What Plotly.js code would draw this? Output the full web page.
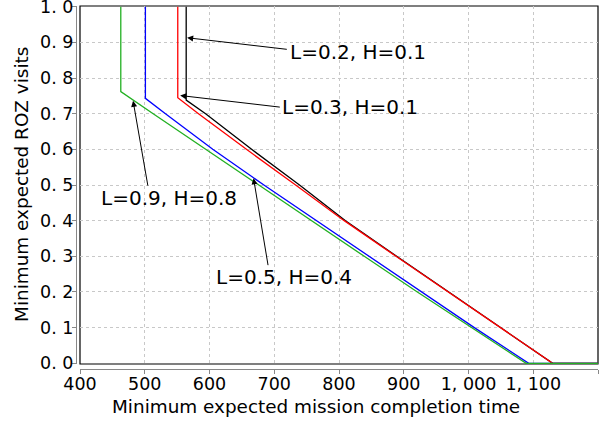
<!DOCTYPE html>
<html>
<head>
<meta charset="utf-8">
<script src="https://cdn.plot.ly/plotly-3.0.1.min.js"></script>
<style>html,body{margin:0;padding:0;background:#fff;}#chart{width:606px;height:424px;}</style>
</head>
<body>
<div id="chart"></div>
<script>
// Series values
const black_x = [564, 564, 594, 665, 739, 810, 889, 969, 1050, 1130, 1200];
const black_y = [1.0, 0.738, 0.7, 0.6, 0.5, 0.4, 0.3, 0.2, 0.1, 0.0, 0.0];
const red_x = [551, 551, 583, 657, 733, 808, 888, 968, 1049, 1130, 1200];
const red_y = [1.0, 0.745, 0.7, 0.6, 0.5, 0.4, 0.3, 0.2, 0.1, 0.0, 0.0];
const blue_x = [501, 501, 532, 605, 684, 765, 846, 927, 1009, 1093, 1200];
const blue_y = [1.0, 0.743, 0.7, 0.6, 0.5, 0.4, 0.3, 0.2, 0.1, 0.0, 0.0];
const green_x = [463, 463, 513, 594, 676, 758, 839, 921, 1005, 1089, 1200];
const green_y = [1.0, 0.762, 0.7, 0.6, 0.5, 0.4, 0.3, 0.2, 0.1, 0.0, 0.0];

const x_tickvals = [400, 500, 600, 700, 800, 900, 1000, 1100, 1200];
const x_ticktext = ['400', '500', '600', '700', '800', '900', '1, 000', '1, 100', ''];
const y_tickvals = [0, 0.1, 0.2, 0.3, 0.4, 0.5, 0.6, 0.7, 0.8, 0.9, 1.0];
const y_ticktext = ['0. 0', '0. 1', '0. 2', '0. 3', '0. 4', '0. 5', '0. 6', '0. 7', '0. 8', '0. 9', '1. 0'];

const labels = ['L=0.2, H=0.1', 'L=0.3, H=0.1', 'L=0.9, H=0.8', 'L=0.5, H=0.4'];
const x_title = 'Minimum expected mission completion time';
const y_title = 'Minimum expected ROZ visits';

// annotation placement (style/position)
const annPos = [
  {hx: 565.5, hy: 0.913, tx: 721.7, ty: 0.880, cx: 829, cy: 0.873},
  {hx: 554.7, hy: 0.751, tx: 710.9, ty: 0.718, cx: 817.6, cy: 0.718},
  {hx: 482.0, hy: 0.736, tx: 505.2, ty: 0.494, cx: 537.6, cy: 0.464},
  {hx: 668.0, hy: 0.519, tx: 690.8, ty: 0.271, cx: 714.7, cy: 0.243}
];

const FONT = 'DejaVu Sans, sans-serif';
const lw = 1.3;
const traces = [
  {x: black_x, y: black_y, mode: 'lines', line: {color: '#000000', width: lw}},
  {x: red_x, y: red_y, mode: 'lines', line: {color: '#ff0000', width: lw}},
  {x: blue_x, y: blue_y, mode: 'lines', line: {color: '#0000ff', width: lw}},
  {x: green_x, y: green_y, mode: 'lines', line: {color: '#22b022', width: lw}}
];

const annotations = [];
labels.forEach((t, i) => {
  const p = annPos[i];
  annotations.push({x: p.hx, y: p.hy, ax: p.tx, ay: p.ty, axref: 'x', ayref: 'y',
    xref: 'x', yref: 'y', text: '', showarrow: true, arrowhead: 2, arrowsize: 1.2,
    arrowwidth: 1, arrowcolor: '#000'});
  annotations.push({x: p.cx, y: p.cy, xref: 'x', yref: 'y', text: t, showarrow: false,
    font: {family: FONT, size: 20, color: '#000'}, xanchor: 'center', yanchor: 'middle'});
});
annotations.push({x: 0.46, y: -0.103, xref: 'paper', yref: 'paper', text: x_title, showarrow: false,
  font: {family: FONT, size: 18.4, color: '#000'}, xanchor: 'center', yanchor: 'middle'});
annotations.push({x: -0.1034, y: 0.507, xref: 'paper', yref: 'paper', text: y_title, showarrow: false,
  textangle: -90, font: {family: FONT, size: 18.4, color: '#000'}, xanchor: 'center', yanchor: 'middle'});

const layout = {
  width: 606, height: 424,
  margin: {l: 76, r: 8, t: 6, b: 55},
  paper_bgcolor: '#ffffff', plot_bgcolor: '#ffffff',
  showlegend: false,
  font: {family: FONT, size: 17.5, color: '#000'},
  xaxis: {
    domain: [4/522, 1], anchor: 'free', position: 0,
    range: [400, 1200], tickvals: x_tickvals, ticktext: x_ticktext,
    ticks: 'outside', ticklen: 4, tickcolor: '#888', tickwidth: 1,
    showline: true, linecolor: '#888', linewidth: 1,
    showgrid: true, gridcolor: '#c8c8c8', griddash: '3px,3px', gridwidth: 1,
    zeroline: false, tickfont: {family: FONT, size: 17.5, color: '#000'},
    ticklabelstandoff: -5, ticklabeloverflow: 'allow'
  },
  yaxis: {
    domain: [5/363, 1], anchor: 'free', position: 0,
    range: [-0.002, 1.002], tickvals: y_tickvals, ticktext: y_ticktext,
    ticks: 'outside', ticklen: 4, tickcolor: '#888', tickwidth: 1,
    showline: true, linecolor: '#888', linewidth: 1,
    showgrid: true, gridcolor: '#c8c8c8', griddash: '3px,3px', gridwidth: 1,
    zeroline: false, tickfont: {family: FONT, size: 17.5, color: '#000'},
    ticklabelstandoff: -5, ticklabeloverflow: 'allow'
  },
  shapes: [{type: 'rect', xref: 'x domain', yref: 'y domain', x0: 0, x1: 1, y0: 0, y1: 1,
    line: {color: '#000', width: 1.2}, layer: 'below'}],
  annotations: annotations
};

Plotly.newPlot('chart', traces, layout, {staticPlot: true, displayModeBar: false});
</script>
</body>
</html>
